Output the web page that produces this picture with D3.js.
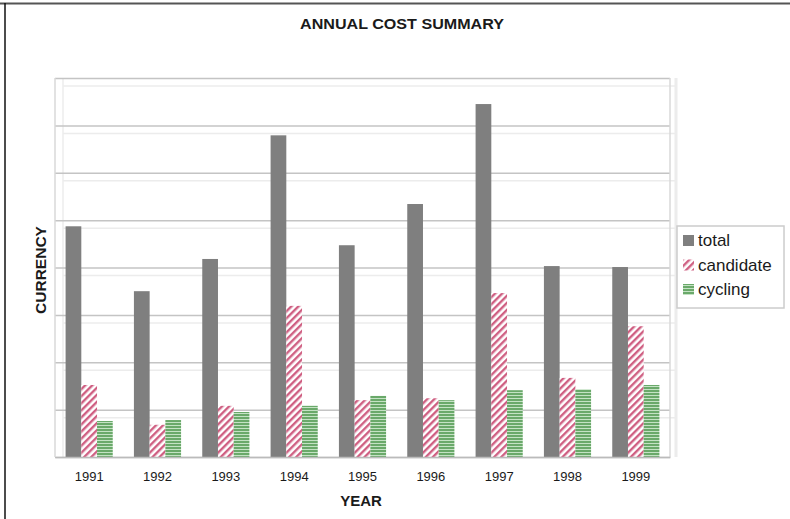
<!DOCTYPE html>
<html>
<head>
<meta charset="utf-8">
<script src="https://cdn.jsdelivr.net/npm/d3@7"></script>
<style>
  body { margin: 0; background: #fff; }
  text { font-family: "Liberation Sans", Arial, sans-serif; }
</style>
</head>
<body>
<div id="chart"></div>
<script>
var years = ["1991", "1992", "1993", "1994", "1995", "1996", "1997", "1998", "1999"];
var seriesNames = ["total", "candidate", "cycling"];
var total = [4.87, 3.50, 4.18, 6.79, 4.47, 5.34, 7.45, 4.03, 4.01];
var candidate = [1.52, 0.68, 1.08, 3.19, 1.20, 1.24, 3.46, 1.67, 2.76];
var cycling = [0.76, 0.78, 0.95, 1.08, 1.29, 1.20, 1.41, 1.43, 1.52];
var gridTicks = [0, 1, 2, 3, 4, 5, 6, 7, 8];

var svgWidth = 790;
var svgHeight = 519;

var margin = { top: 78, right: 120, bottom: 62, left: 55 };
var width = 670 - margin.left;
var height = 457 - margin.top;

var svg = d3.select("#chart")
  .append("svg")
  .attr("width", svgWidth)
  .attr("height", svgHeight);

// hatch fills
var defs = svg.append("defs");

var hatch = defs.append("pattern")
  .attr("id", "hatch")
  .attr("patternUnits", "userSpaceOnUse")
  .attr("width", 5)
  .attr("height", 5)
  .attr("patternTransform", "rotate(45)");
hatch.append("rect").attr("width", 5).attr("height", 5).attr("fill", "#fff");
hatch.append("rect").attr("width", 2.4).attr("height", 5).attr("fill", "#cf5f82");

var stripes = defs.append("pattern")
  .attr("id", "stripes")
  .attr("patternUnits", "userSpaceOnUse")
  .attr("width", 4)
  .attr("height", 3);
stripes.append("rect").attr("width", 4).attr("height", 3).attr("fill", "#6aa96a");
stripes.append("rect").attr("y", 2).attr("width", 4).attr("height", 1).attr("fill", "#c4e2c4");

var colors = { total: "#7f7f7f", candidate: "url(#hatch)", cycling: "url(#stripes)" };

// page frame
svg.append("line").attr("x1", 0).attr("x2", svgWidth).attr("y1", 3.5).attr("y2", 3.5)
  .attr("stroke", "#555").attr("stroke-width", 2);
svg.append("line").attr("x1", 5).attr("x2", 5).attr("y1", 3).attr("y2", svgHeight)
  .attr("stroke", "#111").attr("stroke-width", 1.5);

var chartGroup = svg.append("g")
  .attr("transform", `translate(${margin.left}, ${margin.top})`);

var xScale = d3.scaleBand()
  .domain(years)
  .range([0, width])
  .paddingInner(0.31)
  .paddingOuter(0.155);

var xSub = d3.scaleBand()
  .domain(seriesNames)
  .range([0, xScale.bandwidth()]);

var yScale = d3.scaleLinear()
  .domain([0, 8])
  .range([height, 0]);

// back wall depth lines
var depth = 8;
chartGroup.selectAll(".wall")
  .data(gridTicks.slice(1))
  .enter()
  .append("line")
  .attr("x1", depth)
  .attr("x2", width + 6)
  .attr("y1", d => yScale(d) + depth)
  .attr("y2", d => yScale(d) + depth)
  .attr("stroke", "#ececec")
  .attr("stroke-width", 1.5);
chartGroup.append("line")
  .attr("x1", depth).attr("x2", depth)
  .attr("y1", 0).attr("y2", height)
  .attr("stroke", "#ececec").attr("stroke-width", 1.5);
chartGroup.append("line")
  .attr("x1", width + 6).attr("x2", width + 6)
  .attr("y1", 0).attr("y2", height)
  .attr("stroke", "#ececec").attr("stroke-width", 3);

// gridlines
chartGroup.append("g")
  .call(d3.axisLeft(yScale).tickValues(gridTicks).tickSize(-width).tickFormat(""))
  .call(g => g.select(".domain").remove())
  .call(g => g.selectAll("line").attr("stroke", "#c4c4c4").attr("stroke-width", 1.5));

chartGroup.append("line")
  .attr("x1", 0).attr("x2", 0).attr("y1", 0).attr("y2", height)
  .attr("stroke", "#d8d8d8").attr("stroke-width", 1.5);
chartGroup.append("line")
  .attr("x1", width).attr("x2", width).attr("y1", 0).attr("y2", height)
  .attr("stroke", "#d8d8d8").attr("stroke-width", 1.5);

// bars
var rows = years.map((y, i) => ({ year: y, total: total[i], candidate: candidate[i], cycling: cycling[i] }));

var groups = chartGroup.selectAll(".year")
  .data(rows)
  .enter()
  .append("g")
  .attr("transform", d => `translate(${xScale(d.year)}, 0)`);

groups.selectAll("rect")
  .data(d => seriesNames.map(k => ({ key: k, value: d[k] })))
  .enter()
  .append("rect")
  .attr("x", d => xSub(d.key))
  .attr("width", xSub.bandwidth())
  .attr("y", d => yScale(d.value))
  .attr("height", d => height - yScale(d.value))
  .attr("fill", d => colors[d.key]);

// x axis
var xAxis = chartGroup.append("g")
  .attr("transform", `translate(0, ${height})`)
  .call(d3.axisBottom(xScale).tickSize(0).tickPadding(15));
xAxis.select(".domain").attr("stroke", "#bbb").attr("stroke-width", 1.5);
xAxis.selectAll("text")
  .attr("font-size", "13px")
  .attr("fill", "#1a1a1a");

// labels
svg.append("text")
  .attr("x", 402)
  .attr("y", 29)
  .attr("text-anchor", "middle")
  .attr("font-size", "15px")
  .attr("font-weight", "bold")
  .attr("fill", "#1a1a1a")
  .attr("textLength", 204)
  .attr("lengthAdjust", "spacingAndGlyphs")
  .text("ANNUAL COST SUMMARY");

svg.append("text")
  .attr("x", 361)
  .attr("y", 506)
  .attr("text-anchor", "middle")
  .attr("font-size", "15px")
  .attr("font-weight", "bold")
  .attr("fill", "#1a1a1a")
  .text("YEAR");

svg.append("text")
  .attr("transform", "translate(46, 270) rotate(-90)")
  .attr("text-anchor", "middle")
  .attr("font-size", "15.5px")
  .attr("font-weight", "bold")
  .attr("fill", "#1a1a1a")
  .text("CURRENCY");

// legend
var legend = svg.append("g").attr("transform", "translate(677, 226)");
legend.append("rect")
  .attr("width", 107)
  .attr("height", 82)
  .attr("fill", "#fff")
  .attr("stroke", "#ccc")
  .attr("stroke-width", 1.5);

var items = legend.selectAll(".item")
  .data(seriesNames)
  .enter()
  .append("g")
  .attr("transform", (d, i) => `translate(6, ${14 + i * 24.5})`);

items.append("rect")
  .attr("y", -5)
  .attr("width", 11)
  .attr("height", 11)
  .attr("fill", d => colors[d]);

items.append("text")
  .attr("x", 15)
  .attr("y", 6)
  .attr("font-size", "17px")
  .attr("fill", "#1a1a1a")
  .text(d => d);
</script>
</body>
</html>
